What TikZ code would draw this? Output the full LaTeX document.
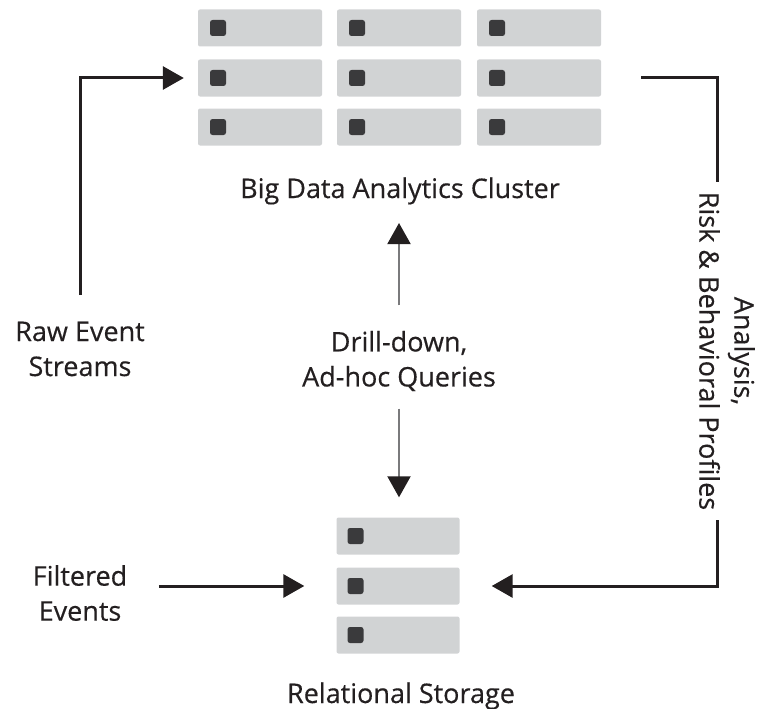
\documentclass[tikz,border=0pt]{standalone}
\usepackage{fontspec}
\setmainfont{Open Sans}
\newfontfamily\lblfont{Open Sans}[FakeBold=0.4]
\usetikzlibrary{positioning,arrows.meta,calc}
\definecolor{slotgray}{HTML}{D1D3D4}
\definecolor{ledgray}{HTML}{3A3A3C}
\definecolor{ink}{HTML}{231F20}
\definecolor{thingray}{HTML}{7A7A7C}

\begin{document}
\begin{tikzpicture}[x=1pt,y=-1pt,>={Triangle[length=21pt,width=23pt]},
   every node/.style={font=\lblfont\fontsize{27}{35}\selectfont,text=ink},
   slot/.style={rectangle,fill=slotgray,rounded corners=2pt,
     minimum width=124pt,minimum height=37pt,inner sep=0pt},
   led/.style={rectangle,fill=ledgray,rounded corners=2.5pt,
     minimum size=16pt,inner sep=0pt,anchor=west},
   flow/.style={draw=ink,line width=3pt},
   query/.style={draw=thingray,line width=2pt,
     -{Triangle[length=21pt,width=23pt,ink]}}]
  \useasboundingbox (0,0) rectangle (758,709);

  % analytics cluster, 3 x 3 slots
  \foreach \r/\y in {1/28,2/78,3/127}
    \foreach \c/\x in {1/260,2/399,3/539} {
      \node[slot] (c\r\c) at (\x,\y) {};
      \node[led] at ([xshift=12pt]c\r\c.west) {};
    }
  \node (clusterlbl) [anchor=base] at (400,198) {Big Data Analytics Cluster};

  % relational storage, 3 slots
  \foreach \r/\y in {1/536,2/586,3/635} {
    \node[slot,minimum width=123pt] (s\r) at (398,\y) {};
    \node[led] at ([xshift=11pt]s\r.west) {};
  }
  \node (storagelbl) [anchor=base] at (401,703) {Relational Storage};

  % labels
  \node (raw) [align=center] at (80,349) {Raw Event\\Streams};
  \node (filtered) [align=center] at (80,593) {Filtered\\Events};
  \node (drill) [align=center] at (399,361) {Drill-down,\\Ad-hoc Queries};
  \node (profiles) [align=center,rotate=-90,inner sep=10pt] at (727,351)
    {Analysis,\\Risk \& Behavioral Profiles};

  % connectors
  \draw[flow,->,shorten <=23pt,shorten >=14pt] (raw.north) |- (c21.west);
  \draw[flow,shorten <=40pt] (c23.east) -| ([xshift=-10pt]profiles.west);
  \draw[flow,->,shorten >=32pt] ([xshift=-10pt]profiles.east) |- (s2.east);
  \draw[flow,->,shorten <=28pt,shorten >=32pt] (filtered.east |- s2.west) -- (s2.west);
  \draw[query,shorten <=22pt,shorten >=15pt] (drill.north) -- (drill.north |- clusterlbl.south);
  \draw[query,shorten <=14pt,shorten >=20pt] (drill.south) -- (drill.south |- s1.north);
\end{tikzpicture}
\end{document}
